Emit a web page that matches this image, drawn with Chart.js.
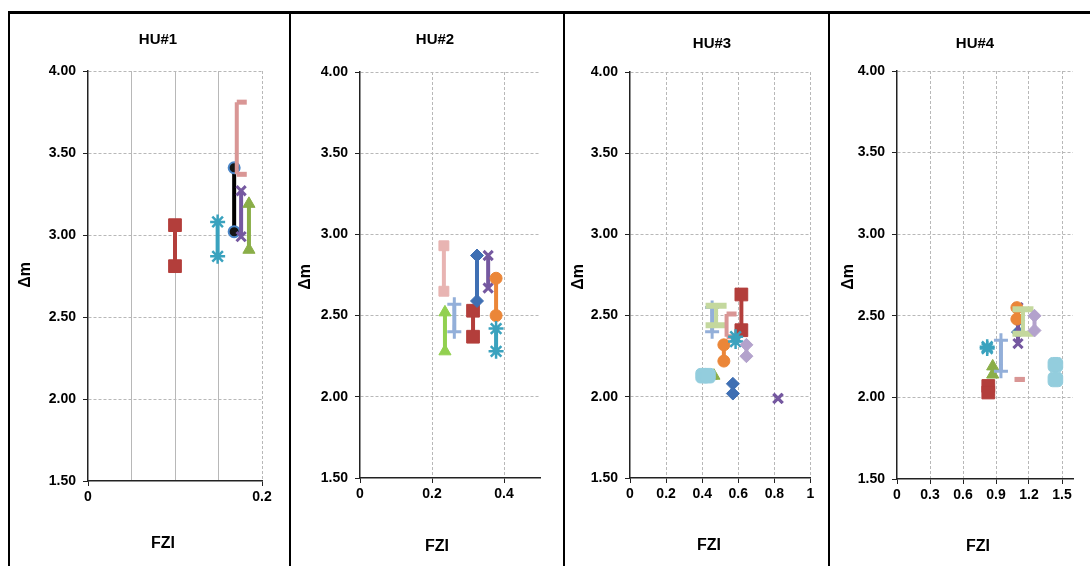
<!DOCTYPE html>
<html>
<head>
  <title>HU FZI vs Δm</title>
  <script src="https://cdn.jsdelivr.net/npm/chart.js@4.4.0/dist/chart.umd.min.js"></script>
  <style>
    body { margin: 0; background: #fff; }
    #wrap {
      position: relative;
      width: 1090px;
      height: 566px;
      overflow: hidden;
      background: #fff;
      font-family: "Liberation Sans", Arial, sans-serif;
    }
    .rule { position: absolute; background: #000; }
    .panel { position: absolute; }
    .lbl {
      position: absolute;
      transform: translate(-50%, -50%);
      font-weight: bold;
      white-space: nowrap;
      color: #000;
    }
    .title { font-size: 15px; }
    .xt { font-size: 16px; }
    .yt { font-size: 16px; transform: translate(-50%, -50%) rotate(-90deg); }
  </style>
</head>
<body>
  <div id="wrap">
    <div class="rule" style="left:8px;top:11px;width:1082px;height:3px"></div>
    <div class="rule" style="left:8px;top:11px;width:2px;height:555px"></div>
    <div class="rule" style="left:289px;top:11px;width:2px;height:555px"></div>
    <div class="rule" style="left:563px;top:11px;width:2px;height:555px"></div>
    <div class="rule" style="left:828px;top:11px;width:2px;height:555px"></div>

    <div class="panel" style="left:11px;top:15px"><canvas id="hu1" width="277" height="551"></canvas></div>
    <div class="panel" style="left:292px;top:15px"><canvas id="hu2" width="270" height="551"></canvas></div>
    <div class="panel" style="left:566px;top:15px"><canvas id="hu3" width="261" height="551"></canvas></div>
    <div class="panel" style="left:831px;top:15px"><canvas id="hu4" width="259" height="551"></canvas></div>

    <div class="lbl title" style="left:158px;top:38px">HU#1</div>
    <div class="lbl title" style="left:435px;top:38px">HU#2</div>
    <div class="lbl title" style="left:712px;top:42px">HU#3</div>
    <div class="lbl title" style="left:975px;top:42px">HU#4</div>

    <div class="lbl xt" style="left:163px;top:543px">FZI</div>
    <div class="lbl xt" style="left:437px;top:546px">FZI</div>
    <div class="lbl xt" style="left:709px;top:545px">FZI</div>
    <div class="lbl xt" style="left:978px;top:546px">FZI</div>

    <div class="lbl yt" style="left:25px;top:275px">Δm</div>
    <div class="lbl yt" style="left:305px;top:277px">Δm</div>
    <div class="lbl yt" style="left:578px;top:277px">Δm</div>
    <div class="lbl yt" style="left:848px;top:277px">Δm</div>
  </div>

  <script>
    // shared y axis (Δm)
    var dmTicks = [1.5, 2, 2.5, 3, 3.5, 4];
    var dmLabels = ['1.50', '2.00', '2.50', '3.00', '3.50', '4.00'];

    // HU#1 -- each series is a pair of points (top, bottom)
    var hu1Keys = ['red', 'teal', 'black', 'pink', 'purple', 'olive'];
    var hu1Fzi = [[0.100, 0.100], [0.149, 0.149], [0.168, 0.168], [0.171, 0.171], [0.176, 0.176], [0.185, 0.185]];
    var hu1Dm = [[3.06, 2.81], [3.08, 2.87], [3.41, 3.02], [3.81, 3.37], [3.27, 2.99], [3.19, 2.91]];
    var hu1XTicks = [0, 0.05, 0.1, 0.15, 0.2];
    var hu1XLabels = ['0', '', '', '', '0.2'];

    // HU#2
    var hu2Keys = ['pinkSq', 'green', 'ltblue', 'red', 'blue', 'purple', 'orange', 'teal'];
    var hu2Fzi = [[0.233, 0.233], [0.236, 0.236], [0.262, 0.262], [0.314, 0.314], [0.325, 0.325], [0.356, 0.356], [0.378, 0.378], [0.378, 0.378]];
    var hu2Dm = [[2.93, 2.65], [2.52, 2.28], [2.57, 2.40], [2.53, 2.37], [2.87, 2.59], [2.87, 2.67], [2.73, 2.50], [2.42, 2.28]];
    var hu2XTicks = [0, 0.2, 0.4];
    var hu2XLabels = ['0', '0.2', '0.4'];

    // HU#3
    var hu3Keys = ['olive', 'sky', 'blue', 'purple', 'ltblue', 'ltgreen', 'pink', 'orange', 'red', 'teal', 'lavender'];
    var hu3Fzi = [[0.45, 0.465], [0.405, 0.432], [0.57, 0.57], [0.82, 0.82], [0.455, 0.455], [0.477, 0.477], [0.535, 0.535], [0.52, 0.52], [0.617, 0.617], [0.585, 0.585], [0.645, 0.645]];
    var hu3Dm = [[2.13, 2.13], [2.13, 2.13], [2.08, 2.02], [1.99, 1.99], [2.55, 2.40], [2.56, 2.44], [2.51, 2.37], [2.32, 2.22], [2.63, 2.41], [2.37, 2.34], [2.32, 2.25]];
    var hu3XTicks = [0, 0.2, 0.4, 0.6, 0.8, 1];
    var hu3XLabels = ['0', '0.2', '0.4', '0.6', '0.8', '1'];

    // HU#4
    var hu4Keys = ['red', 'olive', 'teal', 'ltblue', 'pink', 'sky', 'blue', 'purple', 'orange', 'ltgreen', 'lavender'];
    var hu4Fzi = [[0.83, 0.83], [0.87, 0.87], [0.82, 0.82], [0.945, 0.945], [1.07, 1.07], [1.44, 1.44], [1.10, 1.10], [1.10, 1.10], [1.09, 1.09], [1.145, 1.145], [1.25, 1.25]];
    var hu4Dm = [[2.07, 2.03], [2.19, 2.14], [2.31, 2.30], [2.35, 2.16], [2.11, 2.11], [2.20, 2.11], [2.47, 2.40], [2.55, 2.33], [2.55, 2.48], [2.54, 2.39], [2.50, 2.41]];
    var hu4XTicks = [0, 0.3, 0.6, 0.9, 1.2, 1.5];
    var hu4XLabels = ['0', '0.3', '0.6', '0.9', '1.2', '1.5'];

    // marker / line look of each series
    var styles = {
      blue:     { color: '#3F6FB3', point: 'rectRot', r: 6.5 },
      red:      { color: '#B33E3B', point: 'rect', r: 9 },
      olive:    { color: '#8AAE48', point: 'triangle', r: 7 },
      purple:   { color: '#7558A0', point: 'crossRot', r: 6.5, pw: 3 },
      teal:     { color: '#3AA2BE', point: 'star', r: 7.5, pw: 2.5 },
      orange:   { color: '#EB8638', point: 'circle', r: 6 },
      black:    { color: '#4A86C8', line: '#000', fill: '#151515', point: 'circle', r: 5.5, pw: 2 },
      pink:     { color: '#D99695', point: 'dash', r: 10, pw: 5 },
      pinkSq:   { color: '#E8B4B2', point: 'rect', r: 7 },
      ltblue:   { color: '#93AFD9', point: 'cross', r: 7, pw: 3 },
      ltgreen:  { color: '#C4D89E', point: 'line', r: 10.5, pw: 6 },
      green:    { color: '#92D050', point: 'triangle', r: 7 },
      lavender: { color: '#B3A2CC', point: 'rectRot', r: 6.5 },
      sky:      { color: '#93CDDD', point: 'rectRounded', r: 8.5 }
    };

    var tickFont = { family: '"Liberation Sans", Arial, sans-serif', size: 14, weight: 'bold' };

    function buildChart(id, keys, fzi, dm, xMax, xTicks, xLabels, box, solidInner) {
      var datasets = keys.map(function(k, i) {
        var s = styles[k];
        return {
          label: k,
          data: fzi[i].map(function(x, j) { return { x: x, y: dm[i][j] }; }),
          showLine: true,
          borderColor: s.line || s.color,
          borderWidth: 4,
          pointStyle: s.point,
          pointRadius: s.r,
          pointBackgroundColor: s.fill || s.color,
          pointBorderColor: s.color,
          pointBorderWidth: s.pw || 1,
          order: keys.length - i
        };
      });

      return new Chart(document.getElementById(id), {
        type: 'scatter',
        data: { datasets: datasets },
        options: {
          responsive: false,
          animation: false,
          layout: { padding: { left: 0, right: box.right, top: box.top, bottom: box.bottom } },
          plugins: { legend: { display: false }, tooltip: { enabled: false } },
          scales: {
            x: {
              type: 'linear',
              min: 0,
              max: xMax,
              afterBuildTicks: function(sc) { sc.ticks = xTicks.map(function(v) { return { value: v }; }); },
              afterFit: function(sc) { sc.height = 30; },
              ticks: {
                callback: function(v, i) { return xLabels[i]; },
                font: tickFont,
                color: '#000',
                padding: 3,
                maxRotation: 0,
                autoSkip: false
              },
              grid: {
                color: function(c) {
                  if (!c.tick || c.tick.value === 0) return 'rgba(0,0,0,0)';
                  return '#b8b8b8';
                },
                tickLength: 5,
                tickColor: function(c) {
                  return c.tick && xLabels[c.index] ? '#222' : 'rgba(0,0,0,0)';
                }
              },
              border: {
                color: '#222',
                width: 1.5,
                dash: function(c) {
                  if (solidInner && c.tick && !xLabels[c.index]) return [];
                  return [3, 2];
                }
              }
            },
            y: {
              type: 'linear',
              min: 1.5,
              max: 4,
              afterBuildTicks: function(sc) { sc.ticks = dmTicks.map(function(v) { return { value: v }; }); },
              afterFit: function(sc) { sc.width = box.yw; },
              ticks: {
                callback: function(v, i) { return dmLabels[i]; },
                font: tickFont,
                color: '#000',
                padding: 7
              },
              grid: {
                color: function(c) {
                  if (!c.tick || c.tick.value === 1.5) return 'rgba(0,0,0,0)';
                  return '#b8b8b8';
                },
                tickLength: 5,
                tickColor: '#222'
              },
              border: { color: '#222', width: 1.5, dash: [3, 2] }
            }
          }
        }
      });
    }

    // canvas at (left, top), chart area edges in page pixels
    function frame(cLeft, cTop, cW, cH, aLeft, aRight, aTop, aBottom) {
      return {
        yw: aLeft - cLeft,
        right: cLeft + cW - aRight,
        top: aTop - cTop,
        bottom: cTop + cH - aBottom - 30
      };
    }

    buildChart('hu1', hu1Keys, hu1Fzi, hu1Dm, 0.2, hu1XTicks, hu1XLabels, frame(11, 15, 277, 551, 88, 262, 71, 481), true);
    buildChart('hu2', hu2Keys, hu2Fzi, hu2Dm, 0.5, hu2XTicks, hu2XLabels, frame(292, 15, 270, 551, 360, 540, 72, 478), false);
    buildChart('hu3', hu3Keys, hu3Fzi, hu3Dm, 1, hu3XTicks, hu3XLabels, frame(566, 15, 261, 551, 630, 813, 72, 478), false);
    buildChart('hu4', hu4Keys, hu4Fzi, hu4Dm, 1.6, hu4XTicks, hu4XLabels, frame(831, 15, 259, 551, 897, 1073, 71, 479), false);
  </script>
</body>
</html>
